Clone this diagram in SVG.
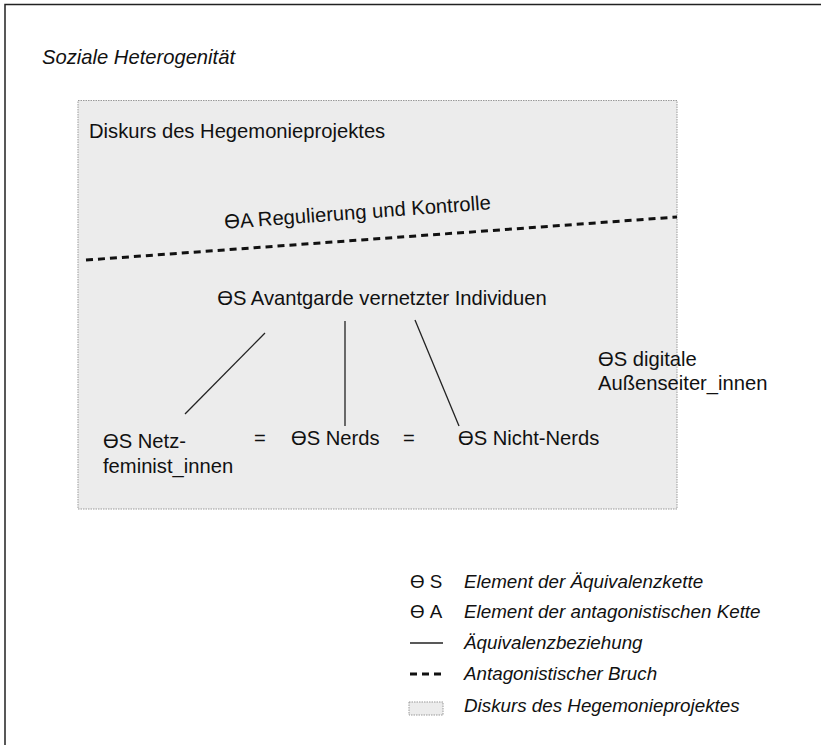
<svg xmlns="http://www.w3.org/2000/svg" width="821" height="745" viewBox="0 0 821 745">
<style>
text{font-family:"Liberation Sans",Arial,sans-serif;font-size:20.2px;fill:#111}
.it{font-style:italic}
.leg{font-size:18.8px}
.eq{stroke:#222;stroke-width:1.3;fill:none}
.br{stroke:#111;stroke-width:3;stroke-dasharray:7 5;fill:none}
.disk{fill:#ececec;stroke:#999;stroke-width:1;stroke-dasharray:1.5 1}
</style>
<rect width="821" height="745" fill="#fff"/>
<path d="M5 745 V4.5 H821" stroke="#222" stroke-width="1.5" fill="none"/>
<text class="it" x="42" y="64">Soziale Heterogenität</text>
<g id="diskurs">
<rect class="disk" x="78" y="100.5" width="599" height="408.5"/>
<text x="89" y="138">Diskurs des Hegemonieprojektes</text>
</g>
<g id="antagonismus">
<text x="358" y="219" text-anchor="middle" transform="rotate(-4.2 358 219)">ϴA Regulierung und Kontrolle</text>
</g>
<g id="avantgarde"><text x="382" y="305" text-anchor="middle">ϴS Avantgarde vernetzter Individuen</text></g>
<g id="netzfeminist"><text x="103" y="448">ϴS Netz-</text><text x="103" y="473">feminist_innen</text></g>
<g id="nerds"><text x="291" y="445">ϴS Nerds</text></g>
<g id="nichtnerds"><text x="458" y="445">ϴS Nicht-Nerds</text></g>
<g id="aussenseiter"><text x="598" y="366">ϴS digitale</text><text x="598" y="390">Außenseiter_innen</text></g>
<g id="connectors">
<line class="br" x1="86" y1="260" x2="677" y2="217"/>
<line class="eq" x1="265" y1="333" x2="185" y2="414"/>
<line class="eq" x1="345" y1="321" x2="345" y2="426"/>
<line class="eq" x1="415" y1="320" x2="459" y2="426"/>
<text x="260" y="445" text-anchor="middle">=</text>
<text x="409" y="445" text-anchor="middle">=</text>
</g>
<g id="legende">
<text class="leg" x="410" y="588">ϴ S</text>
<text class="leg it" x="464" y="588">Element der Äquivalenzkette</text>
<text class="leg" x="410" y="618">ϴ A</text>
<text class="leg it" x="464" y="618">Element der antagonistischen Kette</text>
<line class="eq" x1="410" y1="643" x2="443" y2="643"/>
<text class="leg it" x="464" y="649">Äquivalenzbeziehung</text>
<line class="br" x1="410" y1="674" x2="443" y2="674" stroke-dasharray="5 4" stroke-width="2.5"/>
<text class="leg it" x="464" y="680">Antagonistischer Bruch</text>
<rect class="disk" x="409" y="702" width="34" height="13"/>
<text class="leg it" x="464" y="712">Diskurs des Hegemonieprojektes</text>
</g>
</svg>
